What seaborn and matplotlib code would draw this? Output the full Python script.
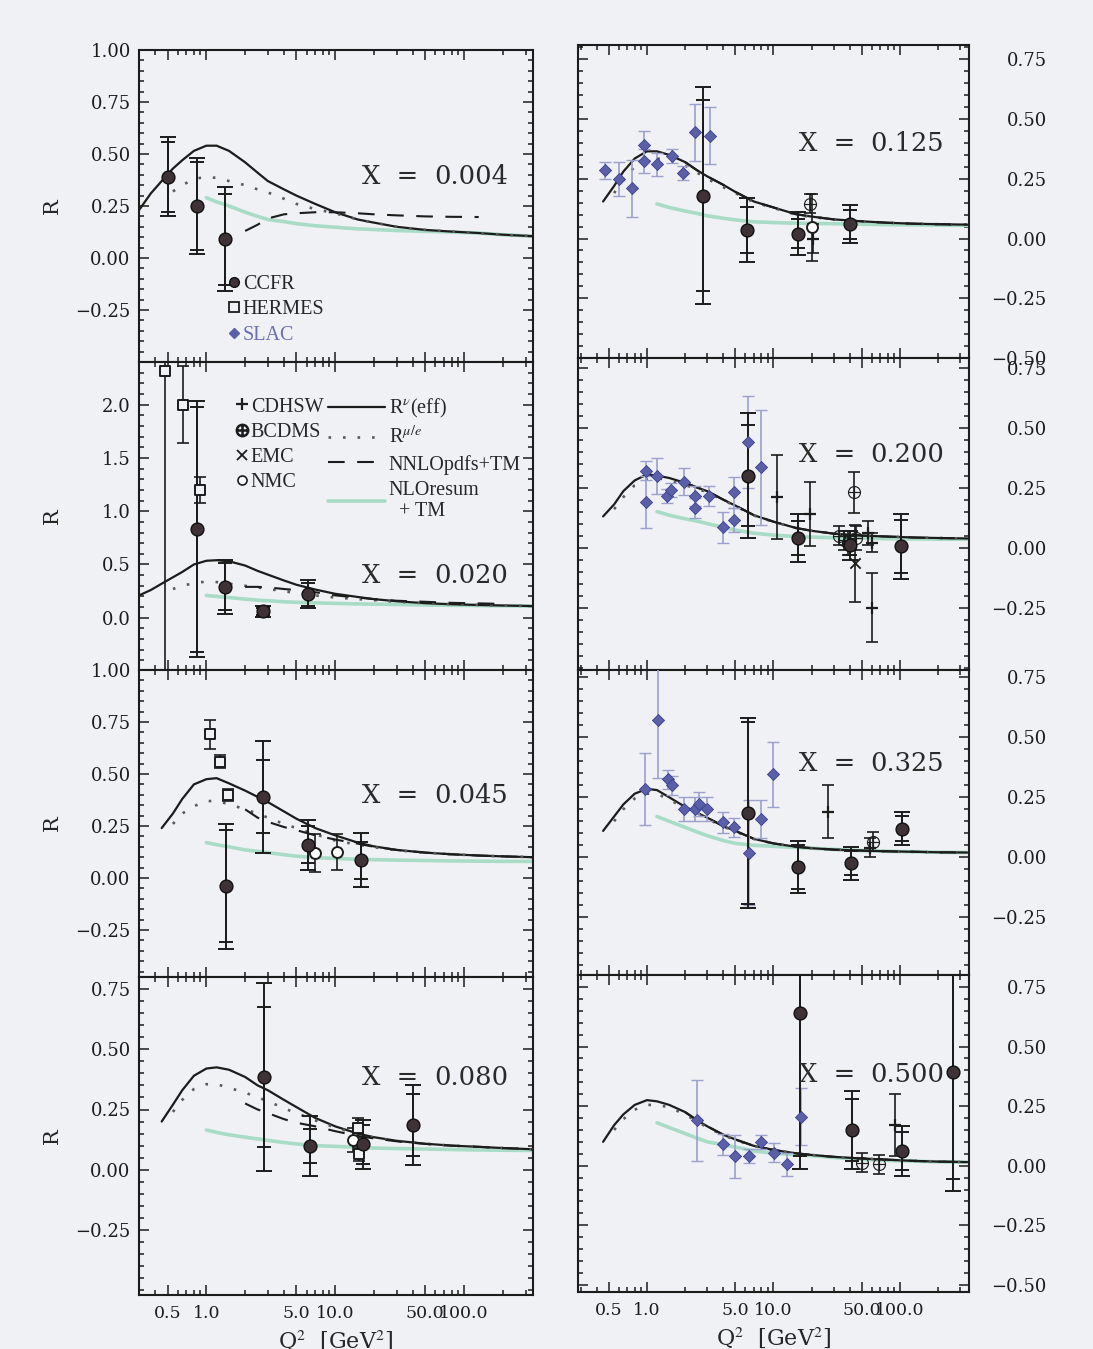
import numpy as np
import pandas as pd
import matplotlib
matplotlib.use("Agg")
import matplotlib.pyplot as plt
from matplotlib.lines import Line2D
from matplotlib.ticker import FixedLocator, MultipleLocator, NullFormatter
import seaborn as sns

N = np.nan

# ---------------------------------------------------------------- data
PANELS = [0.004, 0.020, 0.045, 0.080, 0.125, 0.200, 0.325, 0.500]

# Q^2 nodes (GeV^2) shared by all theory curves
Q2_GRID = [0.30, 0.37, 0.45, 0.55, 0.65, 0.80, 1.0, 1.2, 1.5, 2.0, 2.5, 3.0,
           4.0, 5.0, 7.0, 10, 15, 20, 30, 50, 80, 130, 200, 340]

# R^nu(eff), R^{mu/e}, NNLO pdfs + TM, NLO resummed + TM at each x
RNU_0004 = [0.23, 0.31, 0.37, 0.43, 0.47, 0.515, 0.54, 0.54, 0.515, 0.46, 0.41, 0.37, 0.33, 0.30, 0.26, 0.22, 0.185, 0.17, 0.15, 0.135, 0.127, 0.12, 0.112, 0.105]
RMU_0004 = [N, N, N, 0.32, 0.35, 0.38, 0.39, 0.385, 0.37, 0.35, 0.33, 0.315, 0.285, 0.26, 0.235, 0.215, 0.185, 0.17, 0.15, 0.135, 0.127, 0.12, 0.112, 0.105]
NNLO_0004 = [N] * 9 + [0.13, 0.16, 0.19, 0.21, 0.215, 0.22, 0.22, 0.215, 0.21, 0.205, 0.20, 0.198, 0.197, N, N]
NLO_0004 = [N] * 6 + [0.29, 0.27, 0.25, 0.22, 0.20, 0.185, 0.175, 0.165, 0.155, 0.148, 0.14, 0.137, 0.132, 0.128, 0.125, 0.12, 0.112, 0.105]

RNU_0020 = [0.21, 0.26, 0.32, 0.38, 0.43, 0.50, 0.535, 0.54, 0.53, 0.49, 0.44, 0.405, 0.35, 0.31, 0.265, 0.225, 0.195, 0.175, 0.155, 0.137, 0.127, 0.12, 0.115, 0.11]
RMU_0020 = [N, N, N, 0.27, 0.30, 0.325, 0.34, 0.335, 0.32, 0.30, 0.285, 0.27, 0.25, 0.23, 0.21, 0.19, 0.175, 0.165, 0.15, 0.137, 0.127, 0.12, 0.115, 0.11]
NNLO_0020 = [N] * 9 + [0.29, 0.29, 0.285, 0.27, 0.26, 0.24, 0.21, 0.19, 0.175, 0.16, 0.15, 0.14, 0.135, 0.13, N]
NLO_0020 = [N] * 6 + [0.21, 0.20, 0.19, 0.175, 0.165, 0.16, 0.15, 0.145, 0.14, 0.135, 0.13, 0.128, 0.125, 0.12, 0.117, 0.115, 0.112, 0.11]

RNU_0045 = [N, N, 0.24, 0.31, 0.38, 0.45, 0.475, 0.48, 0.455, 0.42, 0.39, 0.365, 0.32, 0.285, 0.24, 0.205, 0.17, 0.152, 0.135, 0.122, 0.114, 0.108, 0.104, 0.10]
RMU_0045 = [N, N, N, 0.26, 0.31, 0.345, 0.37, 0.37, 0.355, 0.33, 0.31, 0.29, 0.26, 0.24, 0.21, 0.18, 0.16, 0.148, 0.133, 0.122, 0.114, 0.108, 0.104, 0.10]
NNLO_0045 = [N] * 9 + [0.33, 0.29, 0.27, 0.245, 0.23, 0.205, 0.185, 0.165, 0.15, 0.135, 0.122, 0.114, 0.108, 0.104, 0.10]
NLO_0045 = [N] * 6 + [0.17, 0.16, 0.15, 0.135, 0.128, 0.122, 0.112, 0.105, 0.098, 0.094, 0.09, 0.088, 0.086, 0.084, 0.082, 0.081, 0.08, 0.08]

RNU_0080 = [N, N, 0.20, 0.27, 0.33, 0.39, 0.42, 0.425, 0.415, 0.385, 0.35, 0.33, 0.29, 0.26, 0.215, 0.18, 0.15, 0.135, 0.12, 0.108, 0.10, 0.095, 0.09, 0.085]
RMU_0080 = [N, N, N, 0.24, 0.29, 0.335, 0.355, 0.355, 0.34, 0.32, 0.30, 0.285, 0.255, 0.235, 0.205, 0.175, 0.148, 0.133, 0.12, 0.108, 0.10, 0.095, 0.09, 0.085]
NNLO_0080 = [N] * 9 + [0.275, 0.25, 0.235, 0.21, 0.195, 0.18, 0.16, 0.14, 0.13, 0.118, 0.107, 0.10, 0.095, 0.09, 0.085]
NLO_0080 = [N] * 6 + [0.165, 0.155, 0.145, 0.135, 0.128, 0.122, 0.113, 0.107, 0.10, 0.097, 0.093, 0.09, 0.088, 0.086, 0.084, 0.082, 0.081, 0.08]

RNU_0125 = [N, N, 0.155, 0.22, 0.28, 0.335, 0.365, 0.365, 0.35, 0.32, 0.285, 0.26, 0.225, 0.195, 0.155, 0.13, 0.102, 0.092, 0.08, 0.072, 0.066, 0.062, 0.06, 0.058]
RMU_0125 = [N, N, N, 0.19, 0.25, 0.30, 0.33, 0.335, 0.33, 0.305, 0.275, 0.25, 0.215, 0.19, 0.152, 0.128, 0.10, 0.09, 0.08, 0.072, 0.066, 0.062, 0.06, 0.058]
NNLO_0125 = [N] * 9 + [0.32, 0.285, 0.26, 0.225, 0.195, 0.155, 0.13, 0.102, 0.092, 0.08, 0.072, 0.066, 0.062, 0.06, 0.058]
NLO_0125 = [N] * 7 + [0.145, 0.13, 0.115, 0.105, 0.095, 0.085, 0.078, 0.07, 0.067, 0.064, 0.063, 0.062, 0.06, 0.058, 0.057, 0.056, 0.055]

RNU_0200 = [N, N, 0.13, 0.18, 0.235, 0.28, 0.305, 0.30, 0.29, 0.27, 0.25, 0.235, 0.20, 0.175, 0.135, 0.108, 0.082, 0.07, 0.058, 0.05, 0.046, 0.042, 0.04, 0.038]
RMU_0200 = [N, N, N, 0.16, 0.21, 0.26, 0.285, 0.29, 0.28, 0.26, 0.245, 0.23, 0.198, 0.173, 0.134, 0.107, 0.082, 0.07, 0.058, 0.05, 0.046, 0.042, 0.04, 0.038]
NNLO_0200 = [N] * 9 + [0.27, 0.25, 0.235, 0.20, 0.175, 0.135, 0.108, 0.082, 0.07, 0.058, 0.05, 0.046, 0.042, 0.04, 0.038]
NLO_0200 = [N] * 7 + [0.15, 0.135, 0.12, 0.11, 0.10, 0.085, 0.073, 0.06, 0.052, 0.046, 0.044, 0.041, 0.039, 0.037, 0.036, 0.035, 0.035]

RNU_0325 = [N, N, 0.11, 0.17, 0.22, 0.265, 0.285, 0.28, 0.25, 0.21, 0.185, 0.165, 0.13, 0.11, 0.077, 0.058, 0.044, 0.038, 0.032, 0.028, 0.025, 0.023, 0.021, 0.02]
RMU_0325 = [N, N, N, 0.15, 0.20, 0.245, 0.265, 0.265, 0.24, 0.205, 0.18, 0.16, 0.128, 0.108, 0.076, 0.058, 0.044, 0.038, 0.032, 0.028, 0.025, 0.023, 0.021, 0.02]
NNLO_0325 = [N] * 9 + [0.21, 0.185, 0.165, 0.13, 0.11, 0.077, 0.058, 0.044, 0.038, 0.032, 0.028, 0.025, 0.023, 0.021, 0.02]
NLO_0325 = [N] * 7 + [0.17, 0.15, 0.125, 0.105, 0.09, 0.07, 0.058, 0.05, 0.046, 0.041, 0.038, 0.033, 0.028, 0.025, 0.023, 0.021, 0.02]

RNU_0500 = [N, N, 0.10, 0.17, 0.215, 0.255, 0.275, 0.27, 0.255, 0.225, 0.19, 0.165, 0.13, 0.11, 0.083, 0.066, 0.052, 0.045, 0.037, 0.03, 0.025, 0.02, 0.017, 0.015]
RMU_0500 = [N, N, N, 0.15, 0.195, 0.235, 0.255, 0.255, 0.245, 0.215, 0.185, 0.16, 0.128, 0.108, 0.082, 0.066, 0.052, 0.045, 0.037, 0.03, 0.025, 0.02, 0.017, 0.015]
NNLO_0500 = [N] * 9 + [0.225, 0.19, 0.165, 0.13, 0.11, 0.083, 0.066, 0.052, 0.045, 0.037, 0.03, 0.025, 0.02, 0.017, 0.015]
NLO_0500 = [N] * 7 + [0.18, 0.16, 0.135, 0.115, 0.10, 0.088, 0.078, 0.062, 0.052, 0.046, 0.042, 0.034, 0.027, 0.022, 0.019, 0.016, 0.015]

# CCFR (total and statistical errors)
CCFR_X = [0.004] * 3 + [0.020] * 4 + [0.045] * 4 + [0.080] * 4 + [0.125] * 4 + [0.200] * 4 + [0.325] * 4 + [0.500] * 4
CCFR_Q2 = [0.50, 0.84, 1.40, 0.85, 1.40, 2.77, 6.2, 1.43, 2.77, 6.2, 15.9, 2.82, 6.4, 16.5, 40,
           2.77, 6.2, 15.7, 40, 6.3, 15.7, 40, 101, 6.3, 15.7, 41, 104, 16.2, 42, 104, 263]
CCFR_R = [0.39, 0.25, 0.09, 0.83, 0.29, 0.06, 0.22, -0.04, 0.39, 0.16, 0.085, 0.385, 0.10, 0.105, 0.185,
          0.18, 0.035, 0.02, 0.06, 0.30, 0.04, 0.01, 0.005, 0.185, -0.04, -0.025, 0.12, 0.64, 0.15, 0.06, 0.395]
CCFR_ERR = [0.19, 0.23, 0.25, 1.20, 0.25, 0.05, 0.13, 0.30, 0.27, 0.12, 0.13, 0.39, 0.125, 0.10, 0.165,
            0.455, 0.135, 0.09, 0.08, 0.26, 0.10, 0.06, 0.135, 0.395, 0.11, 0.07, 0.07, 0.655, 0.165, 0.105, 0.50]
CCFR_STAT = [0.17, 0.21, 0.22, 1.15, 0.22, 0.03, 0.11, 0.27, 0.175, 0.09, 0.09, 0.29, 0.07, 0.08, 0.13,
             0.40, 0.095, 0.06, 0.06, 0.21, 0.07, 0.04, 0.11, 0.38, 0.09, 0.05, 0.05, 0.60, 0.13, 0.08, 0.45]

# HERMES
HERMES_X = [0.020] * 3 + [0.045] * 3 + [0.080] * 2
HERMES_Q2 = [0.48, 0.66, 0.90, 1.07, 1.28, 1.48, 15.0, 15.3]
HERMES_R = [2.32, 2.00, 1.20, 0.69, 0.56, 0.40, 0.175, 0.065]
HERMES_ERR = [2.85, 0.36, 0.12, 0.07, 0.03, 0.03, 0.04, 0.03]

# SLAC
SLAC_X = [0.125] * 10 + [0.200] * 14 + [0.325] * 13 + [0.500] * 8
SLAC_Q2 = [0.47, 0.60, 0.76, 0.95, 0.95, 1.2, 1.58, 1.94, 2.4, 3.15,
           0.98, 0.98, 1.2, 1.44, 1.55, 1.96, 2.4, 2.4, 3.1, 4.0, 4.9, 4.9, 6.3, 7.95,
           0.96, 1.22, 1.47, 1.58, 1.96, 2.4, 2.6, 3.0, 4.0, 4.9, 6.4, 7.95, 9.9,
           2.48, 4.0, 5.0, 6.4, 7.95, 10.1, 12.8, 16.5]
SLAC_R = [0.285, 0.25, 0.21, 0.39, 0.325, 0.31, 0.345, 0.275, 0.445, 0.43,
          0.32, 0.19, 0.30, 0.215, 0.24, 0.275, 0.215, 0.165, 0.215, 0.085, 0.23, 0.115, 0.44, 0.335,
          0.285, 0.57, 0.325, 0.30, 0.20, 0.20, 0.22, 0.20, 0.145, 0.125, 0.02, 0.16, 0.345,
          0.19, 0.09, 0.04, 0.04, 0.10, 0.055, 0.005, 0.205]
SLAC_ERR = [0.035, 0.07, 0.12, 0.06, 0.05, 0.05, 0.03, 0.03, 0.12, 0.12,
            0.04, 0.11, 0.075, 0.03, 0.03, 0.055, 0.04, 0.04, 0.04, 0.065, 0.065, 0.05, 0.19, 0.24,
            0.15, 0.24, 0.04, 0.04, 0.05, 0.05, 0.05, 0.05, 0.045, 0.04, 0.22, 0.08, 0.135,
            0.17, 0.045, 0.09, 0.03, 0.03, 0.04, 0.05, 0.12]

# NMC
NMC_X = [0.045, 0.045, 0.080, 0.125]
NMC_Q2 = [7.0, 10.4, 13.8, 20.0]
NMC_R = [0.12, 0.125, 0.125, 0.047]
NMC_ERR = [0.09, 0.085, 0.05, 0.14]

# CDHSW
CDHSW_X = [0.125, 0.200, 0.200, 0.200, 0.200, 0.200, 0.325, 0.325, 0.500]
CDHSW_Q2 = [20.5, 10.7, 19.5, 56, 60, 60, 27, 58, 91]
CDHSW_R = [0.0, 0.21, 0.14, 0.06, 0.02, -0.25, 0.19, 0.04, 0.17]
CDHSW_ERR = [0.06, 0.175, 0.135, 0.05, 0.04, 0.145, 0.11, 0.04, 0.13]

# BCDMS
BCDMS_X = [0.125, 0.200, 0.200, 0.200, 0.200, 0.200, 0.325, 0.500, 0.500]
BCDMS_Q2 = [19.5, 33, 36, 39, 45, 43.5, 61, 50, 68]
BCDMS_R = [0.145, 0.05, 0.03, 0.02, 0.04, 0.23, 0.065, 0.012, 0.005]
BCDMS_ERR = [0.04, 0.04, 0.04, 0.05, 0.05, 0.085, 0.04, 0.04, 0.04]

# EMC
EMC_X = [0.200]
EMC_Q2 = [44]
EMC_R = [-0.065]
EMC_ERR = [0.16]

XTICK_VALUES = [0.5, 1.0, 5.0, 10.0, 50.0, 100.0]
XTICK_LABELS = ["0.5", "1.0", "5.0", "10.0", "50.0", "100.0"]

# ---------------------------------------------------------------- frames
ccfr = pd.DataFrame(dict(x=CCFR_X, q2=CCFR_Q2, r=CCFR_R, err=CCFR_ERR, stat=CCFR_STAT))
hermes = pd.DataFrame(dict(x=HERMES_X, q2=HERMES_Q2, r=HERMES_R, err=HERMES_ERR))
slac = pd.DataFrame(dict(x=SLAC_X, q2=SLAC_Q2, r=SLAC_R, err=SLAC_ERR))
nmc = pd.DataFrame(dict(x=NMC_X, q2=NMC_Q2, r=NMC_R, err=NMC_ERR))
cdhsw = pd.DataFrame(dict(x=CDHSW_X, q2=CDHSW_Q2, r=CDHSW_R, err=CDHSW_ERR))
bcdms = pd.DataFrame(dict(x=BCDMS_X, q2=BCDMS_Q2, r=BCDMS_R, err=BCDMS_ERR))
emc = pd.DataFrame(dict(x=EMC_X, q2=EMC_Q2, r=EMC_R, err=EMC_ERR))

CURVES = {
    0.004: (RNU_0004, RMU_0004, NNLO_0004, NLO_0004),
    0.020: (RNU_0020, RMU_0020, NNLO_0020, NLO_0020),
    0.045: (RNU_0045, RMU_0045, NNLO_0045, NLO_0045),
    0.080: (RNU_0080, RMU_0080, NNLO_0080, NLO_0080),
    0.125: (RNU_0125, RMU_0125, NNLO_0125, NLO_0125),
    0.200: (RNU_0200, RMU_0200, NNLO_0200, NLO_0200),
    0.325: (RNU_0325, RMU_0325, NNLO_0325, NLO_0325),
    0.500: (RNU_0500, RMU_0500, NNLO_0500, NLO_0500),
}

# ---------------------------------------------------------------- style
BG = "#eff1f4"
INK = "#1c1c1c"
GREEN = "#a9dcc6"
SLAC_FACE = "#5a5fa8"
SLAC_BAR = "#9ba0cc"
CCFR_FACE = "#3e3236"

CURVE_STYLE = [
    dict(color=INK, lw=1.6, ls="-", zorder=3),                  # R^nu(eff)
    dict(color="#5a5a5a", lw=1.9, ls=(0, (1, 4.5)), zorder=3),  # R^{mu/e}
    dict(color=INK, lw=1.5, ls=(0, (8, 6)), zorder=3),          # NNLO pdfs + TM
    dict(color=GREEN, lw=2.6, ls="-", zorder=2),                # NLO resum + TM
]

sns.set_theme(style="ticks")
plt.rcParams["font.family"] = ["DejaVu Serif"]
plt.rcParams["mathtext.fontset"] = "stix"
plt.rcParams["axes.unicode_minus"] = True

W, H = 1093, 1349
fig = plt.figure(figsize=(W / 100, H / 100), dpi=100, facecolor=BG)

# column geometry in pixels (left, right) and row geometry (top, bottom)
COL_L = (139, 533)
COL_R = (578, 969)
ROWS_L = [(50, 362), (362, 670), (670, 977), (977, 1295)]
ROWS_R = [(45, 358), (358, 670), (670, 975), (975, 1292)]
YLIMS = [(-0.5, 1.0), (-0.49, 2.40), (-0.476, 1.0), (-0.52, 0.80),
         (-0.5, 0.81), (-0.51, 0.79), (-0.49, 0.78), (-0.53, 0.80)]
YTICKS = [[-0.25, 0, 0.25, 0.5, 0.75, 1.0], [0, 0.5, 1.0, 1.5, 2.0],
          [-0.25, 0, 0.25, 0.5, 0.75, 1.0], [-0.25, 0, 0.25, 0.5, 0.75],
          [-0.5, -0.25, 0, 0.25, 0.5, 0.75], [-0.25, 0, 0.25, 0.5, 0.75],
          [-0.25, 0, 0.25, 0.5, 0.75], [-0.5, -0.25, 0, 0.25, 0.5, 0.75]]
TEXT_Y = [0.593, 0.308, 0.59, 0.685, 0.684, 0.69, 0.695, 0.685]

axes = []
for i, xb in enumerate(PANELS):
    left = i < 4
    cx = COL_L if left else COL_R
    top, bot = (ROWS_L if left else ROWS_R)[i % 4]
    ax = fig.add_axes([cx[0] / W, 1 - bot / H, (cx[1] - cx[0]) / W, (bot - top) / H])
    ax.set_facecolor(BG)
    ax.set_xscale("log")
    axes.append(ax)

    # theory curves
    for vals, st in zip(CURVES[xb], CURVE_STYLE):
        cdf = pd.DataFrame({"q2": Q2_GRID, "r": vals}).dropna()
        sns.lineplot(data=cdf, x="q2", y="r", ax=ax, estimator=None, sort=False,
                     color=st["color"], lw=st["lw"], ls=st["ls"], zorder=st["zorder"])

    # data sets
    s = slac[slac.x == xb]
    if len(s):
        ax.errorbar(s.q2, s.r, yerr=s.err, fmt="none", ecolor=SLAC_BAR, elinewidth=1.2,
                    capsize=4, capthick=1.0, zorder=4)
        sns.scatterplot(data=s, x="q2", y="r", ax=ax, marker="D", s=38, color=SLAC_FACE,
                        edgecolor="#3d4190", linewidth=0.6, zorder=6, legend=False)

    for df, mk, size, lw in ((cdhsw, "+", 70, 1.6), (bcdms, r"$\oplus$", 90, 0.0), (emc, "x", 55, 1.3)):
        d = df[df.x == xb]
        if len(d):
            ax.errorbar(d.q2, d.r, yerr=d.err, fmt="none", ecolor=INK, elinewidth=1.2,
                        capsize=4, capthick=1.2, zorder=4)
            sns.scatterplot(data=d, x="q2", y="r", ax=ax, marker=mk, s=size, color=INK,
                            linewidth=lw, zorder=6, legend=False)

    d = hermes[hermes.x == xb]
    if len(d):
        ax.errorbar(d.q2, d.r, yerr=d.err, fmt="none", ecolor=INK, elinewidth=1.2,
                    capsize=4, capthick=1.2, zorder=4)
        sns.scatterplot(data=d, x="q2", y="r", ax=ax, marker="s", s=62, color=BG,
                        edgecolor=INK, linewidth=1.4, zorder=6, legend=False)

    d = nmc[nmc.x == xb]
    if len(d):
        ax.errorbar(d.q2, d.r, yerr=d.err, fmt="none", ecolor=INK, elinewidth=1.2,
                    capsize=4, capthick=1.2, zorder=4)
        sns.scatterplot(data=d, x="q2", y="r", ax=ax, marker="o", s=62, color="white",
                        edgecolor=INK, linewidth=1.4, zorder=6, legend=False)

    d = ccfr[ccfr.x == xb]
    if len(d):
        ax.errorbar(d.q2, d.r, yerr=d.err, fmt="none", ecolor=INK, elinewidth=1.4,
                    capsize=5.5, capthick=1.4, zorder=5)
        ax.errorbar(d.q2, d.r, yerr=d.stat, fmt="none", ecolor=INK, elinewidth=1.4,
                    capsize=5, capthick=1.4, zorder=5)
        sns.scatterplot(data=d, x="q2", y="r", ax=ax, marker="o", s=85, color=CCFR_FACE,
                        edgecolor="#111111", linewidth=1.0, zorder=7, legend=False)

    # axes cosmetics
    ax.set_xlim((0.30, 343) if left else (0.285, 351))
    ax.set_ylim(*YLIMS[i])
    ax.xaxis.set_major_locator(FixedLocator(XTICK_VALUES))
    ax.xaxis.set_minor_locator(FixedLocator(
        [v for v in [0.3, 0.4, 0.6, 0.7, 0.8, 0.9, 2, 3, 4, 6, 7, 8, 9, 20, 30, 40,
                     60, 70, 80, 90, 200, 300] if v not in XTICK_VALUES]))
    ax.xaxis.set_minor_formatter(NullFormatter())
    ax.set_yticks(YTICKS[i])
    ax.yaxis.set_minor_locator(MultipleLocator(0.1 if i == 1 else 0.05))
    if i == 1:
        ax.set_yticklabels([f"{v:.1f}" for v in YTICKS[i]])
    else:
        ax.set_yticklabels([f"{v:.2f}".replace("-", "\u2212") for v in YTICKS[i]])

    bottom_row = (i % 4) == 3
    if bottom_row:
        ax.set_xticklabels(XTICK_LABELS)
        ax.set_xlabel(r"Q$^2$  [GeV$^2$]", fontsize=16)
        ax.xaxis.set_label_coords(0.5, -0.105)
    else:
        ax.set_xticklabels([])
        ax.set_xlabel("")

    ax.tick_params(axis="both", which="both", direction="in", top=True, right=True,
                   colors=INK, width=1.1)
    ax.tick_params(axis="both", which="major", length=7)
    ax.tick_params(axis="both", which="minor", length=3.5)
    ax.tick_params(axis="x", which="major", labelsize=12.5, pad=7)
    if left:
        ax.tick_params(axis="y", which="major", labelsize=13, pad=6,
                       labelleft=True, labelright=False)
        ax.set_ylabel("R", fontsize=15, labelpad=0)
        ax.yaxis.set_label_coords(-0.195, 0.5)
    else:
        ax.tick_params(axis="y", which="major", labelsize=13, pad=56,
                       labelleft=False, labelright=True)
        for t in ax.yaxis.get_major_ticks():
            t.label2.set_horizontalalignment("right")
        ax.set_ylabel("")
    for sp in ax.spines.values():
        sp.set_linewidth(1.5)
        sp.set_color(INK)

    ax.text(0.566, TEXT_Y[i], "X  =", transform=ax.transAxes, fontsize=18.5,
            ha="left", va="center", color="#2a2a2a", zorder=8)
    ax.text(0.937, TEXT_Y[i], f"{xb:.3f}", transform=ax.transAxes, fontsize=18.5,
            ha="right", va="center", color="#2a2a2a", zorder=8)

# ---------------------------------------------------------------- legends
LEG_FONT = {"family": "Liberation Serif", "size": 14.5}

h1 = [Line2D([], [], ls="none", marker="o", ms=7, mfc=CCFR_FACE, mec="#111111"),
      Line2D([], [], ls="none", marker="s", ms=7, mfc=BG, mec=INK, mew=1.3),
      Line2D([], [], ls="none", marker="D", ms=5.5, mfc=SLAC_FACE, mec=SLAC_FACE)]
leg1 = axes[0].legend(h1, ["CCFR", "HERMES", "SLAC"], loc="upper left",
                      bbox_to_anchor=(0.225, 0.28), frameon=False, prop=LEG_FONT,
                      handlelength=0.6, handletextpad=0.15, labelspacing=0.33,
                      borderpad=0, borderaxespad=0)
leg1.get_texts()[2].set_color("#6a6fb4")

h2 = [Line2D([], [], ls="none", marker="+", ms=8, mew=1.6, color=INK),
      Line2D([], [], ls="none", marker=r"$\oplus$", ms=9, color=INK),
      Line2D([], [], ls="none", marker="x", ms=6.5, mew=1.3, color=INK),
      Line2D([], [], ls="none", marker="o", ms=6.5, mfc="white", mec=INK, mew=1.2)]
leg2 = axes[1].legend(h2, ["CDHSW", "BCDMS", "EMC", "NMC"], loc="upper left",
                      bbox_to_anchor=(0.245, 0.885), frameon=False, prop=LEG_FONT,
                      handlelength=0.6, handletextpad=0.15, labelspacing=0.3,
                      borderpad=0, borderaxespad=0)
axes[1].add_artist(leg2)

h3 = [Line2D([], [], color=st["color"], lw=st["lw"], ls=st["ls"]) for st in CURVE_STYLE]
leg3 = axes[1].legend(h3, [r"R$^{\nu}$(eff)", r"R$^{\mu/e}$", "NNLOpdfs+TM", "NLOresum\n  + TM"],
                      loc="upper left", bbox_to_anchor=(0.48, 0.885), frameon=False,
                      prop=LEG_FONT, handlelength=2.8, handletextpad=0.2,
                      labelspacing=0.3, borderpad=0, borderaxespad=0)

fig.savefig("out.png", dpi=100, facecolor=BG)
